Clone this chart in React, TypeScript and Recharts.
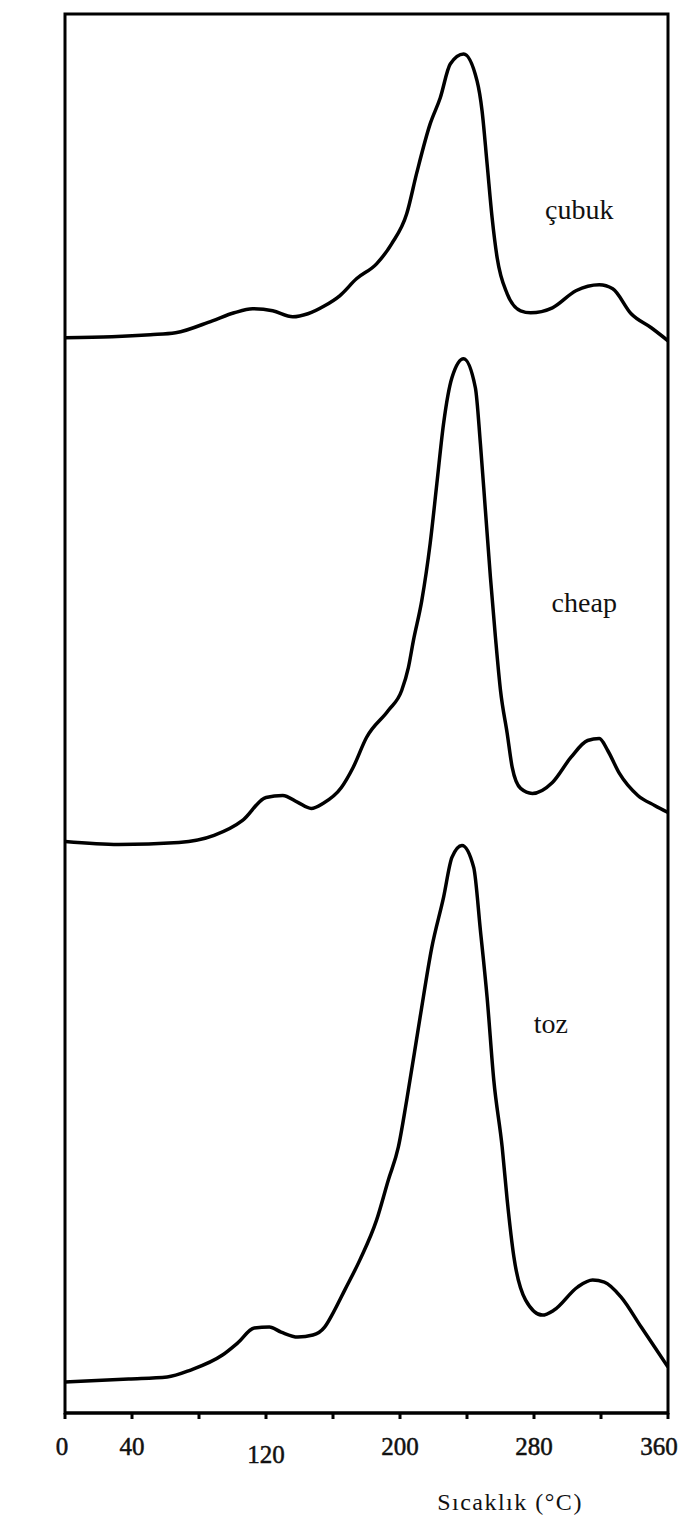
import { LineChart, Line, XAxis, YAxis, ReferenceArea, ReferenceDot } from 'recharts';

// Sıcaklık (°C) and TL sayım (arbitrary units, curves stacked with offsets)
const cubukT = [0, 28, 51, 66, 88, 101, 112, 124, 136, 145, 155, 164, 174, 186, 195, 204, 210, 218, 224, 230, 238, 246, 249, 252, 255, 258, 264, 272, 278, 291, 305, 319, 327, 338, 350, 360];
const cubukTL = [1076, 1077, 1079, 1081, 1093, 1101, 1105, 1103, 1097, 1100, 1108, 1118, 1135, 1150, 1170, 1200, 1241, 1290, 1316, 1350, 1360, 1333, 1303, 1250, 1196, 1156, 1120, 1103, 1101, 1106, 1123, 1129, 1125, 1100, 1086, 1073];

const cheapT = [0, 32, 68, 89, 106, 120, 130, 139, 147, 154, 165, 172, 180, 193, 201, 205, 208, 213, 218, 222, 226, 231, 238, 245, 248, 251, 254, 257, 260, 264, 267, 272, 279, 291, 302, 312, 319, 324, 331, 342, 352, 360];
const cheapTL = [572, 569, 571, 578, 593, 616, 618, 611, 605, 610, 626, 646, 676, 703, 723, 746, 773, 813, 870, 930, 990, 1036, 1055, 1026, 970, 903, 836, 776, 723, 680, 646, 625, 620, 631, 656, 673, 675, 663, 640, 618, 608, 601];

const tozT = [0, 38, 61, 75, 94, 103, 113, 122, 129, 139, 148, 155, 160, 167, 176, 186, 193, 199, 204, 212, 219, 226, 231, 237, 244, 248, 252, 256, 261, 264, 268, 275, 285, 292, 306, 315, 322, 332, 344, 360];
const tozTL = [31, 34, 36, 43, 58, 70, 85, 86, 81, 76, 78, 86, 100, 123, 153, 193, 233, 266, 313, 396, 466, 516, 556, 568, 546, 483, 416, 333, 266, 213, 156, 113, 98, 103, 126, 133, 131, 116, 86, 46];

const tickValues = [0, 40, 80, 120, 160, 200, 240, 280, 320, 360];
const labeledTicks = [0, 40, 120, 200, 280, 360];

const toRows = (t: number[], v: number[]) => t.map((x, i) => ({ t: x, v: v[i] }));
const cubukData = toRows(cubukT, cubukTL);
const cheapData = toRows(cheapT, cheapTL);
const tozData = toRows(tozT, tozTL);

const serif = '"Liberation Serif", "DejaVu Serif", serif';

const TempTick = ({ x, y, payload }: any) => {
  if (!labeledTicks.includes(payload.value)) return null;
  const drop = payload.value === 120 ? 42 : 34;
  // last label sits against the page edge
  const shift = payload.value === 360 ? -9 : payload.value === 0 ? -3 : 0;
  return (
    <text
      x={x + shift}
      y={y + drop}
      textAnchor="middle"
      fontFamily={serif}
      fontSize={25}
      fill="#111"
      stroke="#111"
      strokeWidth={0.5}
    >
      {payload.value}
    </text>
  );
};

const seriesLabel = (text: string) => ({
  value: text,
  position: 'center' as const,
  fontFamily: serif,
  fontSize: 28,
  fill: '#111',
});

export default function App() {
  return (
    <div style={{ position: 'absolute', left: 0, top: 0, background: '#fff' }}>
      <LineChart width={684} height={1521} margin={{ top: 14, right: 16, bottom: 48, left: 65 }}>
        <XAxis
          dataKey="t"
          type="number"
          domain={[0, 360]}
          ticks={tickValues}
          allowDataOverflow
          height={60}
          axisLine={{ stroke: '#000', strokeWidth: 3 }}
          tickLine={{ stroke: '#000', strokeWidth: 3 }}
          tickSize={6}
          tick={<TempTick />}
          label={{
            content: () => (
              <text x={510} y={1510} textAnchor="middle" fontFamily={serif} fontSize={24} letterSpacing={1.5} fill="#111">
                Sıcaklık (°C)
              </text>
            ),
          }}
        />
        <YAxis
          type="number"
          domain={[0, 1400]}
          width={0}
          tick={false}
          axisLine={{ stroke: '#000', strokeWidth: 3 }}
          label={{
            content: () => (
              <text
                x={31}
                y={474}
                transform="rotate(-90 31 474)"
                textAnchor="middle"
                fontFamily='"Liberation Sans", Arial, sans-serif'
                fontSize={22}
                fill="#111"
              >
                TL Sayım
              </text>
            ),
          }}
        />
        <ReferenceArea x1={0} x2={360} y1={0} y2={1400} fill="none" stroke="#000" strokeWidth={3} />
        <ReferenceDot x={307} y={1205} r={0} fill="none" stroke="none" label={seriesLabel('çubuk')} />
        <ReferenceDot x={310} y={812} r={0} fill="none" stroke="none" label={seriesLabel('cheap')} />
        <ReferenceDot x={290} y={390} r={0} fill="none" stroke="none" label={seriesLabel('toz')} />
        <Line data={cubukData} dataKey="v" type="monotone" stroke="#000" strokeWidth={3.5} dot={false} isAnimationActive={false} />
        <Line data={cheapData} dataKey="v" type="monotone" stroke="#000" strokeWidth={3.5} dot={false} isAnimationActive={false} />
        <Line data={tozData} dataKey="v" type="monotone" stroke="#000" strokeWidth={3.5} dot={false} isAnimationActive={false} />
      </LineChart>
    </div>
  );
}
